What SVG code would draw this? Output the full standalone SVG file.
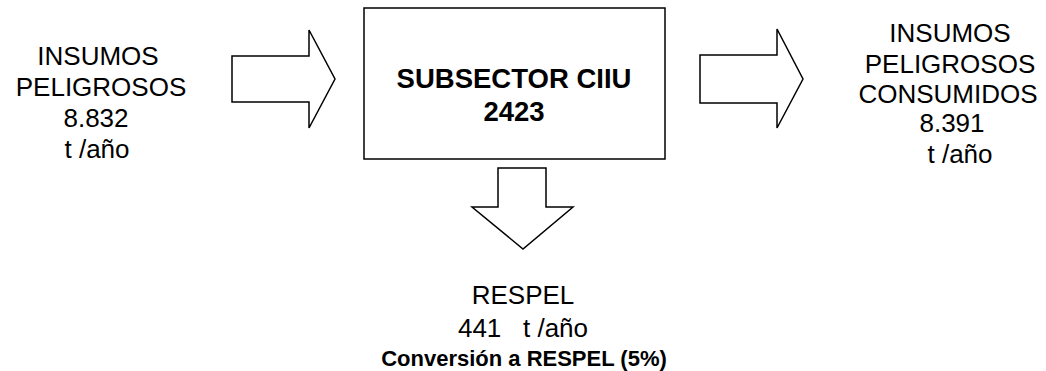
<svg xmlns="http://www.w3.org/2000/svg" width="1046" height="371" viewBox="0 0 1046 371">
<style>
.shape{fill:#fff;stroke:#000;stroke-width:1.5;stroke-linejoin:miter}
.t{font-family:"Liberation Sans",Arial,sans-serif;font-size:26px;fill:#000;text-anchor:middle}
.b{font-weight:bold}
</style>
<rect width="1046" height="371" fill="#fff"/>
<g id="connectors">
<polygon id="arrow-in" class="shape" points="232,56 309,56 309,30 335,79 309,128 309,102 232,102"/>
<polygon id="arrow-out" class="shape" points="700,55 777,55 777,29 803,79 777,128 777,103 700,103"/>
<polygon id="arrow-down" class="shape" points="498,168 546,168 546,207 573,207 523,249 472,207 498,207"/>
</g>
<g id="node-subsector">
<rect class="shape" x="364" y="8" width="301" height="151"/>
<text class="t b" x="514" y="88" style="font-size:27.5px">SUBSECTOR CIIU</text>
<text class="t b" x="514" y="121" style="font-size:27.5px">2423</text>
</g>
<g id="node-insumos">
<text class="t" x="98" y="65">INSUMOS</text>
<text class="t" x="101" y="96">PELIGROSOS</text>
<text class="t" x="96" y="127">8.832</text>
<text class="t" x="97" y="158">t /año</text>
</g>
<g id="node-consumidos">
<text class="t" x="950" y="42">INSUMOS</text>
<text class="t" x="950" y="73">PELIGROSOS</text>
<text class="t" x="948" y="103">CONSUMIDOS</text>
<text class="t" x="952" y="132">8.391</text>
<text class="t" x="960" y="163">t /año</text>
</g>
<g id="node-respel">
<text class="t" x="523" y="304">RESPEL</text>
<text class="t" x="523" y="337" xml:space="preserve">441   t /año</text>
<text class="t b" x="524" y="366" style="font-size:22px">Conversión a RESPEL (5%)</text>
</g>
</svg>
